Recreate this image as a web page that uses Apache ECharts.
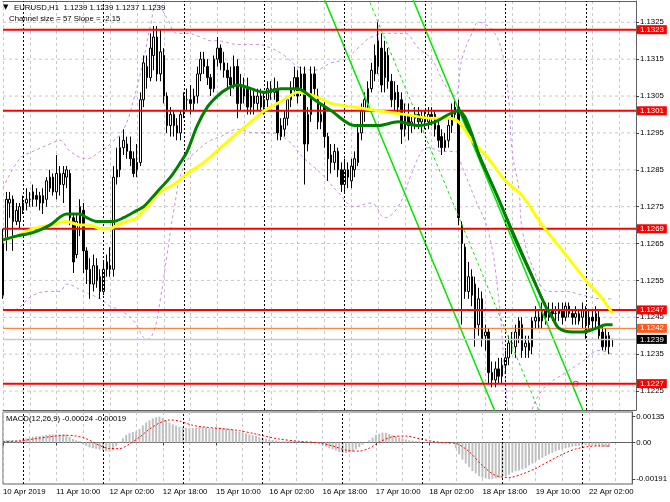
<!DOCTYPE html>
<html><head><meta charset="utf-8">
<script src="https://cdn.jsdelivr.net/npm/echarts@6.0.0/dist/echarts.min.js"></script>
<style>html,body{margin:0;padding:0;background:#fff}#c{width:670px;height:502px}</style>
</head><body><div id="c"></div>
<script>
// ---------- DATA ----------
const headerSymbol = 'EURUSD,H1';
const headerValues = ['1.1239', '1.1239', '1.1237', '1.1239'];
const channelText = 'Channel size = 57 Slope = -2.15';
const macdText = 'MACD(12,26,9) -0.00024 -0.00019';

const xTickLabels = ['10 Apr 2019', '11 Apr 10:00', '12 Apr 02:00', '12 Apr 18:00', '15 Apr 10:00', '16 Apr 02:00',
  '16 Apr 18:00', '17 Apr 10:00', '18 Apr 02:00', '18 Apr 18:00', '19 Apr 10:00', '22 Apr 02:00'];
const priceTicks = [1.1225, 1.1235, 1.1245, 1.1255, 1.1265, 1.1275, 1.1285, 1.1295, 1.1305, 1.1315, 1.1325];
const macdTicks = [0.00135, 0, -0.00191];
const macdTickLabels = ['0.00135', '0.00', '-0.00191'];
const daySeparators = [6, 30, 54, 78, 102, 126, 150, 174];
const barSlots = 190;

// candles: [open, high, low, close]
const candles = [
[1.1251,1.1269,1.1250,1.1265],[1.1266,1.1279,1.1263,1.1277],[1.1276,1.1279,1.1272,1.1277],[1.1277,1.1278,1.1263,1.1271],
[1.1271,1.1276,1.1270,1.1274],[1.1271,1.1276,1.1269,1.1275],[1.1274,1.1278,1.1273,1.1276],[1.1276,1.1280,1.1274,1.1277],
[1.1277,1.1279,1.1275,1.1277],[1.1277,1.1281,1.1275,1.1279],[1.1278,1.1280,1.1275,1.1277],[1.1278,1.1279,1.1274,1.1276],
[1.1276,1.1280,1.1273,1.1278],[1.1277,1.1283,1.1275,1.1282],[1.1280,1.1285,1.1279,1.1283],[1.1283,1.1284,1.1278,1.1279],
[1.1279,1.1289,1.1277,1.1284],[1.1284,1.1286,1.1278,1.1281],[1.1281,1.1286,1.1276,1.1284],[1.1283,1.1286,1.1280,1.1285],
[1.1284,1.1285,1.1270,1.1272],[1.1272,1.1273,1.1257,1.1260],[1.1262,1.1273,1.1261,1.1271],[1.1270,1.1277,1.1267,1.1275],
[1.1274,1.1276,1.1257,1.1263],[1.1263,1.1264,1.1254,1.1258],[1.1258,1.1261,1.1250,1.1254],[1.1254,1.1262,1.1252,1.1259],
[1.1259,1.1261,1.1253,1.1255],[1.1256,1.1258,1.1250,1.1252],[1.1252,1.1260,1.1251,1.1258],[1.1258,1.1262,1.1256,1.1260],
[1.1259,1.1264,1.1256,1.1258],[1.1258,1.1286,1.1256,1.1283],[1.1283,1.1291,1.1281,1.1285],[1.1285,1.1294,1.1283,1.1291],
[1.1291,1.1296,1.1289,1.1293],[1.1292,1.1294,1.1288,1.1290],[1.1290,1.1294,1.1286,1.1288],[1.1288,1.1290,1.1283,1.1284],
[1.1285,1.1292,1.1283,1.1287],[1.1287,1.1306,1.1286,1.1304],[1.1304,1.1316,1.1302,1.1314],[1.1313,1.1316,1.1307,1.1310],
[1.1310,1.1322,1.1309,1.1318],[1.1316,1.1324,1.1312,1.1321],[1.1321,1.1324,1.1309,1.1311],[1.1311,1.1323,1.1309,1.1317],
[1.1316,1.1318,1.1303,1.1305],[1.1305,1.1306,1.1295,1.1297],[1.1297,1.1302,1.1294,1.1300],[1.1300,1.1301,1.1294,1.1297],
[1.1297,1.1299,1.1293,1.1295],[1.1295,1.1301,1.1293,1.1300],[1.1301,1.1306,1.1299,1.1305],[1.1304,1.1307,1.1301,1.1304],
[1.1304,1.1308,1.1300,1.1303],[1.1303,1.1307,1.1301,1.1305],[1.1305,1.1313,1.1303,1.1311],[1.1311,1.1317,1.1309,1.1315],
[1.1315,1.1317,1.1311,1.1313],[1.1313,1.1315,1.1308,1.1310],[1.1310,1.1311,1.1305,1.1307],[1.1307,1.1316,1.1306,1.1315],
[1.1315,1.1321,1.1313,1.1318],[1.1318,1.1319,1.1312,1.1314],[1.1314,1.1317,1.1310,1.1312],[1.1312,1.1314,1.1307,1.1310],
[1.1310,1.1313,1.1305,1.1308],[1.1308,1.1316,1.1307,1.1313],[1.1313,1.1315,1.1299,1.1303],[1.1303,1.1311,1.1301,1.1308],
[1.1307,1.1310,1.1303,1.1305],[1.1307,1.1310,1.1300,1.1302],[1.1302,1.1307,1.1300,1.1305],[1.1305,1.1307,1.1300,1.1303],
[1.1303,1.1307,1.1301,1.1305],[1.1305,1.1307,1.1300,1.1302],[1.1302,1.1306,1.1300,1.1304],[1.1304,1.1309,1.1302,1.1307],
[1.1307,1.1309,1.1304,1.1306],[1.1306,1.1310,1.1304,1.1307],[1.1307,1.1309,1.1293,1.1295],[1.1297,1.1299,1.1293,1.1294],
[1.1296,1.1301,1.1294,1.1299],[1.1299,1.1305,1.1297,1.1304],[1.1304,1.1309,1.1302,1.1307],[1.1307,1.1313,1.1305,1.1310],
[1.1310,1.1312,1.1303,1.1305],[1.1307,1.1313,1.1305,1.1311],[1.1311,1.1313,1.1281,1.1292],[1.1292,1.1302,1.1290,1.1300],
[1.1300,1.1313,1.1298,1.1311],[1.1311,1.1313,1.1305,1.1307],[1.1305,1.1307,1.1296,1.1298],[1.1298,1.1303,1.1296,1.1300],
[1.1302,1.1304,1.1291,1.1294],[1.1294,1.1295,1.1282,1.1288],[1.1289,1.1292,1.1284,1.1287],[1.1287,1.1292,1.1285,1.1290],
[1.1290,1.1291,1.1283,1.1285],[1.1285,1.1287,1.1279,1.1281],[1.1281,1.1288,1.1279,1.1285],[1.1285,1.1287,1.1280,1.1283],
[1.1282,1.1288,1.1280,1.1286],[1.1285,1.1290,1.1283,1.1288],[1.1287,1.1297,1.1286,1.1295],[1.1295,1.1303,1.1293,1.1301],
[1.1301,1.1306,1.1298,1.1304],[1.1303,1.1309,1.1301,1.1307],[1.1307,1.1314,1.1306,1.1312],[1.1311,1.1319,1.1309,1.1316],
[1.1313,1.1325,1.1311,1.1320],[1.1318,1.1322,1.1306,1.1308],[1.1310,1.1320,1.1306,1.1317],[1.1316,1.1318,1.1307,1.1309],
[1.1309,1.1311,1.1302,1.1304],[1.1304,1.1309,1.1301,1.1306],[1.1306,1.1308,1.1300,1.1302],[1.1304,1.1306,1.1292,1.1296],
[1.1296,1.1303,1.1294,1.1300],[1.1300,1.1303,1.1293,1.1297],[1.1297,1.1300,1.1295,1.1298],[1.1299,1.1302,1.1296,1.1300],
[1.1300,1.1302,1.1296,1.1298],[1.1298,1.1301,1.1295,1.1299],[1.1299,1.1301,1.1296,1.1298],[1.1298,1.1302,1.1296,1.1300],
[1.1300,1.1302,1.1297,1.1299],[1.1300,1.1301,1.1294,1.1296],[1.1297,1.1299,1.1291,1.1293],[1.1294,1.1296,1.1289,1.1291],
[1.1291,1.1295,1.1290,1.1293],[1.1293,1.1299,1.1291,1.1297],[1.1297,1.1303,1.1295,1.1301],[1.1300,1.1304,1.1299,1.1302],
[1.1302,1.1304,1.1270,1.1272],[1.1270,1.1271,1.1243,1.1265],[1.1264,1.1265,1.1250,1.1252],[1.1252,1.1260,1.1250,1.1256],
[1.1256,1.1258,1.1248,1.1251],[1.1254,1.1256,1.1237,1.1242],[1.1243,1.1253,1.1240,1.1250],[1.1250,1.1252,1.1237,1.1239],
[1.1240,1.1243,1.1236,1.1241],[1.1241,1.1242,1.1227,1.1230],[1.1230,1.1233,1.1226,1.1228],[1.1228,1.1233,1.1226,1.1231],
[1.1231,1.1234,1.1227,1.1229],[1.1229,1.1234,1.1227,1.1232],[1.1232,1.1236,1.1230,1.1234],[1.1234,1.1240,1.1232,1.1238],
[1.1238,1.1241,1.1235,1.1238],[1.1237,1.1243,1.1234,1.1241],[1.1240,1.1245,1.1238,1.1244],[1.1243,1.1245,1.1234,1.1236],
[1.1237,1.1240,1.1234,1.1238],[1.1238,1.1240,1.1234,1.1236],[1.1237,1.1245,1.1235,1.1244],[1.1244,1.1248,1.1242,1.1245],
[1.1245,1.1247,1.1242,1.1244],[1.1244,1.1249,1.1242,1.1247],[1.1247,1.1249,1.1243,1.1245],[1.1245,1.1249,1.1244,1.1247],
[1.1247,1.1249,1.1244,1.1246],[1.1246,1.1248,1.1244,1.1246],[1.1246,1.1249,1.1244,1.1247],[1.1247,1.1249,1.1243,1.1245],
[1.1245,1.1249,1.1244,1.1248],[1.1248,1.1249,1.1245,1.1246],[1.1246,1.1247,1.1243,1.1245],[1.1245,1.1248,1.1243,1.1246],
[1.1246,1.1247,1.1243,1.1244],[1.1245,1.1249,1.1242,1.1247],[1.1247,1.1248,1.1239,1.1243],[1.1243,1.1247,1.1241,1.1245],
[1.1245,1.1247,1.1242,1.1244],[1.1244,1.1248,1.1242,1.1246],[1.1245,1.1247,1.1239,1.1240],[1.1241,1.1243,1.1236,1.1237],
[1.1237,1.1242,1.1236,1.1240],[1.1240,1.1241,1.1235,1.1237],[1.1239,1.1239,1.1237,1.1239]
];

// moving averages read at sample bars: [bar, price]
const greenMA = [[0,1.1266],[4,1.1267],[9,1.1268],[14,1.1270],[19,1.1273],[23,1.1273],[25,1.1272],[28,1.1271],[31,1.1271],
[33,1.1271],[36,1.1272],[40,1.1274],[42,1.1275],[46,1.1279],[50,1.1283],[53,1.1287],[55,1.1290],[58,1.1297],[61,1.1302],
[64,1.1305],[67,1.1307],[70,1.1308],[74,1.1307],[78,1.1306],[83,1.1307],[88,1.1307],[93,1.1304],[98,1.1301],[105,1.1297],
[112,1.1297],[118,1.1298],[124,1.1297],[129,1.1298],[133,1.1300],[136,1.1301],[143,1.1287],[148,1.1277],[153,1.1266],
[158,1.1256],[162,1.1248],[164,1.1245],[166,1.1242],[170,1.1241],[173,1.1241],[177,1.1242],[180,1.1243],[182,1.1243]];
const yellowMA = [[0,1.1266],[4,1.1267],[9,1.1269],[14,1.1270],[19,1.1271],[23,1.1270],[26,1.1270],[29,1.1269],[32,1.1269],
[34,1.1270],[37,1.1271],[40,1.1272],[43,1.1275],[47,1.1279],[51,1.1281],[55,1.1284],[60,1.1287],[65,1.1291],[70,1.1295],
[74,1.1298],[78,1.1301],[84,1.1304],[88,1.1306],[93,1.1305],[98,1.1303],[105,1.1302],[112,1.1301],[120,1.1300],[128,1.1299],
[133,1.1299],[136,1.1298],[140,1.1293],[145,1.1288],[150,1.1282],[155,1.1278],[161,1.1270],[168,1.1262],[175,1.1254],
[179,1.1250],[182,1.1246]];
const greenTrend = [[136,1.1302],[162,1.1248]];

// Bollinger bands read at sample bars
const bbUpper = [[0,1.1280],[5,1.1288],[9,1.1290],[14,1.1292],[17,1.1293],[20,1.1290],[25,1.1288],[29,1.1290],[32,1.1292],
[36,1.1296],[39,1.1304],[42,1.1315],[44,1.1324],[46,1.1330],[49,1.1326],[52,1.1322],[55,1.1322],[59,1.1321],[62,1.1320],
[64,1.1320],[70,1.1319],[76,1.1319],[80,1.1318],[84,1.1316],[88,1.1313],[93,1.1312],[98,1.1314],[102,1.1315],[106,1.1318],
[110,1.1321],[116,1.1322],[120,1.1322],[124,1.1318],[128,1.1315],[132,1.1308],[135,1.1305],[137,1.1315],[140,1.1322],
[142,1.1325],[146,1.1323],[149,1.1317],[151,1.1304],[152,1.1290],[154,1.1280],[155,1.1269],[158,1.1259],[163,1.1252],
[168,1.1252],[173,1.1251],[179,1.1250],[182,1.1250]];
const bbLower = [[0,1.1247],[3,1.1247],[9,1.1251],[14,1.1252],[17,1.1252],[19,1.1254],[24,1.1252],[29,1.1250],[32,1.1248],
[35,1.1247],[39,1.1244],[43,1.1239],[45,1.1241],[47,1.1250],[49,1.1262],[51,1.1274],[54,1.1286],[59,1.1291],[62,1.1293],
[65,1.1294],[70,1.1296],[75,1.1295],[80,1.1295],[85,1.1293],[90,1.1288],[95,1.1284],[100,1.1279],[105,1.1275],[110,1.1276],
[114,1.1272],[118,1.1275],[122,1.1284],[125,1.1290],[127,1.1291],[131,1.1290],[135,1.1290],[137,1.1286],[141,1.1277],
[145,1.1268],[148,1.1250],[150,1.1228],[152,1.1212],[155,1.1209],[158,1.1220],[160,1.1224],[163,1.1227],[168,1.1230],
[173,1.1233],[178,1.1236],[182,1.1235]];

// regression channel anchor points [bar, price]
const channelLower = [[90,1.13444],[150,1.12126]];
const channelMiddle = [[100,1.13514],[165,1.12087]];
const channelUpper = [[115,1.13475],[178,1.12091]];

// horizontal levels
const redLevels = [1.1323, 1.1301, 1.1269, 1.1247, 1.1227];
const orangeLevel = 1.1242;
const bidLevel = 1.1239;
const stopMark = [[171, 1.1227]];

// MACD
const macdHist = [
0.00010,0.00012,0.00013,0.00013,0.00012,0.00014,
0.00018,0.00022,0.00026,0.00030,0.00033,0.00034,0.00036,
0.00040,0.00042,0.00042,0.00043,0.00042,0.00042,0.00040,
0.00030,0.00018,0.00012,0.00008,
-0.00008,-0.00018,-0.00026,-0.00030,-0.00034,-0.00038,
-0.00042,-0.00046,-0.00048,-0.00040,
-0.00020,0.00005,0.00022,
0.00040,0.00050,0.00055,0.00058,0.00070,
0.00090,0.00105,0.00116,0.00126,
0.00132,0.00135,0.00128,
0.00116,0.00104,0.00095,
0.00088,0.00082,0.00080,0.00078,
0.00076,0.00075,0.00077,0.00080,0.00080,0.00078,0.00074,0.00074,
0.00077,0.00078,0.00076,0.00073,0.00070,0.00068,
0.00058,0.00055,0.00052,0.00048,
0.00042,0.00038,0.00034,0.00028,0.00024,
0.00020,0.00016,0.00014,0.00010,0.00006,
0.00006,0.00006,0.00008,0.00010,0.00008,0.00006,
0.00000,-0.00002,0.00002,0.00000,-0.00004,-0.00006,-0.00012,
-0.00022,-0.00030,-0.00036,-0.00042,-0.00050,-0.00054,
-0.00055,-0.00052,-0.00048,-0.00036,-0.00024,-0.00012,-0.00002,
0.00012,0.00026,0.00040,
0.00046,0.00052,0.00050,0.00044,0.00038,
0.00032,0.00024,0.00020,0.00016,0.00012,
0.00010,0.00008,0.00006,0.00004,0.00003,
0.00002,-0.00002,-0.00004,-0.00006,-0.00006,-0.00004,0.00000,0.00002,
-0.00030,-0.00062,-0.00090,-0.00110,
-0.00128,-0.00150,-0.00162,-0.00176,-0.00184,
-0.00188,-0.00191,-0.00190,-0.00188,-0.00185,-0.00180,
-0.00176,-0.00168,-0.00158,-0.00150,-0.00146,-0.00140,-0.00134,
-0.00120,-0.00110,-0.00100,-0.00090,-0.00080,-0.00070,-0.00062,-0.00054,
-0.00046,-0.00040,-0.00034,-0.00030,-0.00026,-0.00022,-0.00019,-0.00017,
-0.00016,-0.00015,-0.00016,-0.00017,-0.00018,-0.00020,-0.00022,-0.00023,-0.00024
];
const macdSignal = [[0,0.00005],[5,0.00008],[9,0.00018],[14,0.00030],[19,0.00038],[22,0.00034],[25,0.00020],[29,-0.00015],
[32,-0.00032],[35,-0.00032],[38,-0.00008],[41,0.00028],[44,0.00070],[47,0.00102],[50,0.00118],[53,0.00112],[57,0.00090],
[61,0.00080],[67,0.00070],[71,0.00062],[75,0.00048],[79,0.00032],[83,0.00018],[89,0.00006],[95,-0.00002],[99,-0.00018],
[103,-0.00040],[107,-0.00045],[110,-0.00030],[113,0.00002],[117,0.00030],[121,0.00034],[125,0.00020],[129,0.00006],
[133,-0.00002],[136,-0.00005],[140,-0.00048],[144,-0.00121],[148,-0.00173],[152,-0.00183],[156,-0.00165],[160,-0.00136],
[164,-0.00098],[168,-0.00062],[172,-0.00034],[176,-0.00021],[179,-0.00018],[182,-0.00019]];

// ---------- CHART ----------
const FONT = 'Liberation Sans';
const FS = 7.8;
const lastSlot = barSlots - 1;
const cats = Array.from({length: barSlots}, (_, i) => String(i));
const chart = echarts.init(document.getElementById('c'), null, {renderer: 'canvas', width: 670, height: 502});

const gridDash = {color: '#c8c8c8', type: [3, 3], width: 1};
const sepStyle = {color: '#000000', type: [2, 2], width: 1};

function hLine(p, style, z, badge) {
  const s = {type: 'line', xAxisIndex: 0, yAxisIndex: 0, data: [[0, p], [lastSlot, p]], showSymbol: false, symbol: 'none',
    silent: true, z: z, lineStyle: style};
  if (badge) {
    s.endLabel = {show: true, formatter: p.toFixed(4), backgroundColor: badge, color: '#fff', padding: [1, 3, 0, 3],
      fontSize: FS, fontFamily: FONT, distance: 1};
  }
  return s;
}
function bandSeries(data) {
  return {type: 'line', xAxisIndex: 0, yAxisIndex: 0, data: data, showSymbol: false, smooth: 0.4, silent: true, z: 2,
    lineStyle: {color: '#c78cf0', width: 1, type: [3, 3]}};
}
function chanSeries(data, dashed) {
  return {type: 'line', xAxisIndex: 0, yAxisIndex: 0, data: data, showSymbol: false, silent: true, z: 4,
    lineStyle: {color: '#00e600', width: dashed ? 1 : 1.5, type: dashed ? [3, 3] : 'solid'}};
}

const series = [];
priceTicks.forEach(v => series.push(hLine(v, gridDash, 1, null)));
series.push({type: 'line', xAxisIndex: 0, yAxisIndex: 0, data: [], silent: true, z: 1,
  markLine: {silent: true, symbol: ['none', 'none'], animation: false, label: {show: false}, lineStyle: sepStyle,
    data: daySeparators.map(b => ({xAxis: b}))}});
series.push({type: 'line', xAxisIndex: 1, yAxisIndex: 1, data: [], silent: true, z: 1,
  markLine: {silent: true, symbol: ['none', 'none'], animation: false, label: {show: false}, lineStyle: sepStyle,
    data: daySeparators.map(b => ({xAxis: b}))}});
series.push(bandSeries(bbUpper), bandSeries(bbLower));
series.push({type: 'candlestick', xAxisIndex: 0, yAxisIndex: 0, z: 3, barWidth: 2,
  data: candles.map(([o, h, l, c]) => [o, c, l, h]),
  itemStyle: {color: '#ffffff', color0: '#000000', borderColor: '#000000', borderColor0: '#000000', borderWidth: 1}});
series.push(chanSeries(channelLower, false), chanSeries(channelMiddle, true), chanSeries(channelUpper, false));
redLevels.forEach(p => series.push(hLine(p, {color: '#ff0000', width: 2}, 5, '#ff0000')));
series.push(hLine(orangeLevel, {color: '#ff6a1a', width: 1}, 5, '#ff5a1e'));
series.push(hLine(bidLevel, {color: '#c8c8c8', width: 1.5}, 5, '#000000'));
series.push({type: 'line', xAxisIndex: 0, yAxisIndex: 0, data: greenTrend, showSymbol: false, silent: true, z: 6,
  lineStyle: {color: '#006400', width: 2}});
series.push({type: 'line', xAxisIndex: 0, yAxisIndex: 0, data: yellowMA, showSymbol: false, smooth: 0.3, silent: true, z: 6,
  lineStyle: {color: '#ffff00', width: 3}});
series.push({type: 'line', xAxisIndex: 0, yAxisIndex: 0, data: greenMA, showSymbol: false, smooth: 0.3, silent: true, z: 7,
  lineStyle: {color: '#008000', width: 3}});
series.push({type: 'scatter', xAxisIndex: 0, yAxisIndex: 0, data: stopMark, symbol: 'circle', symbolSize: 5, z: 8, silent: true,
  itemStyle: {color: 'rgba(0,0,0,0)', borderColor: '#ff0000', borderWidth: 1}});
series.push({type: 'bar', xAxisIndex: 1, yAxisIndex: 1, data: macdHist, barWidth: 2, silent: true, z: 3,
  itemStyle: {color: '#c0c0c0'}});
series.push({type: 'line', xAxisIndex: 1, yAxisIndex: 1, data: macdSignal, showSymbol: false, smooth: 0.3, silent: true, z: 4,
  lineStyle: {color: '#ff0000', width: 1, type: [2, 2]}});

const option = {
  animation: false,
  backgroundColor: '#ffffff',
  grid: [
    {left: 3, right: 34, top: 1, height: 409},
    {left: 3, right: 34, top: 412, height: 72, show: true, borderColor: '#606060', borderWidth: 1}
  ],
  xAxis: [
    {gridIndex: 0, type: 'category', data: cats, boundaryGap: false,
      axisLine: {show: true, lineStyle: {color: '#606060'}}, axisTick: {show: false}, axisLabel: {show: false},
      splitLine: {show: true, interval: 7, lineStyle: gridDash}},
    {gridIndex: 1, type: 'category', data: cats, boundaryGap: false,
      axisLine: {show: true, lineStyle: {color: '#606060'}},
      axisTick: {show: true, interval: 15, length: 3, lineStyle: {color: '#404040'}},
      axisLabel: {show: true, interval: 15, align: 'left', margin: 4, fontSize: FS, fontFamily: FONT, color: '#000',
        formatter: (v, i) => (i % 16 === 0 && xTickLabels[i / 16]) ? xTickLabels[i / 16] : ''},
      splitLine: {show: true, interval: 7, lineStyle: gridDash}},
    {gridIndex: 0, type: 'category', data: cats, boundaryGap: false, position: 'top',
      axisLine: {show: true, lineStyle: {color: '#606060'}}, axisTick: {show: false}, axisLabel: {show: false},
      splitLine: {show: false}}
  ],
  yAxis: [
    {gridIndex: 0, type: 'value', position: 'right', min: 1.121985, max: 1.133078,
      axisLine: {show: true, lineStyle: {color: '#606060'}},
      axisTick: {show: true, length: 3, customValues: priceTicks, lineStyle: {color: '#404040'}},
      axisLabel: {show: true, customValues: priceTicks, formatter: v => v.toFixed(4), fontSize: FS, fontFamily: FONT,
        color: '#000', margin: 4},
      splitLine: {show: false}},
    {gridIndex: 1, type: 'value', position: 'right', min: -0.002172, max: 0.001596,
      axisLine: {show: true, lineStyle: {color: '#606060'}},
      axisTick: {show: true, length: 3, customValues: macdTicks, lineStyle: {color: '#404040'}},
      axisLabel: {show: true, customValues: macdTicks, fontSize: FS, fontFamily: FONT, color: '#000', margin: 4,
        formatter: v => { const k = macdTicks.findIndex(t => Math.abs(t - v) < 1e-7); return k >= 0 ? macdTickLabels[k] : ''; }},
      splitLine: {show: false}}
  ],
  series: series,
  graphic: [
    {type: 'text', left: 3, top: 4, z: 100, style: {text: '\u25BC', fontSize: 7, fontFamily: 'DejaVu Sans', fill: '#000'}},
    {type: 'text', left: 14, top: 3.5, z: 100, style: {text: headerSymbol + '  ' + headerValues.join(' '), fontSize: FS, fontFamily: FONT, fill: '#000'}},
    {type: 'text', left: 9, top: 14.5, z: 100, style: {text: channelText, fontSize: FS, fontFamily: FONT, fill: '#000'}},
    {type: 'text', left: 6, top: 414.5, z: 100, style: {text: macdText, fontSize: FS, fontFamily: FONT, fill: '#000'}}
  ]
};
chart.setOption(option);
</script></body></html>
